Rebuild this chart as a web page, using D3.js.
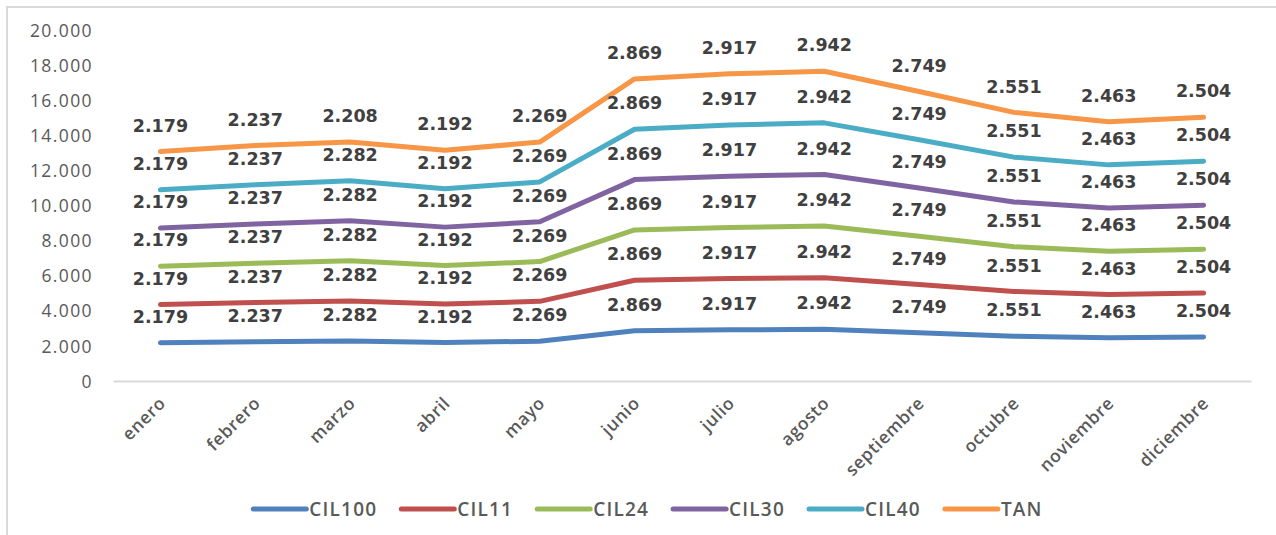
<!DOCTYPE html>
<html>
<head>
<meta charset="utf-8">
<script src="https://cdn.jsdelivr.net/npm/d3@7/dist/d3.min.js"></script>
<style>
  html, body { margin: 0; padding: 0; background: #fff; }
  svg { display: block; }
</style>
</head>
<body>
<svg id="chart" width="1276" height="535"></svg>
<script>
const months = ["enero","febrero","marzo","abril","mayo","junio","julio","agosto","septiembre","octubre","noviembre","diciembre"];
const seriesNames = ["CIL100","CIL11","CIL24","CIL30","CIL40","TAN"];
const CIL100 = [2179,2237,2282,2192,2269,2869,2917,2942,2749,2551,2463,2504];
const CIL11  = [2179,2237,2282,2192,2269,2869,2917,2942,2749,2551,2463,2504];
const CIL24  = [2179,2237,2282,2192,2269,2869,2917,2942,2749,2551,2463,2504];
const CIL30  = [2179,2237,2282,2192,2269,2869,2917,2942,2749,2551,2463,2504];
const CIL40  = [2179,2237,2282,2192,2269,2869,2917,2942,2749,2551,2463,2504];
const TAN    = [2179,2237,2208,2192,2269,2869,2917,2942,2749,2551,2463,2504];
const yTicks = [0,2000,4000,6000,8000,10000,12000,14000,16000,18000,20000];
const colors = ["#4F81BD","#C0504D","#9BBB59","#8064A2","#4BACC6","#F79646"];

const seriesValues = [CIL100, CIL11, CIL24, CIL30, CIL40, TAN];
const table = months.map((m, i) => {
  const row = { month: m };
  seriesNames.forEach((s, k) => row[s] = seriesValues[k][i]);
  return row;
});
const stacked = d3.stack().keys(seriesNames)(table);

const locale = d3.formatLocale({ decimal: ",", thousands: ".", grouping: [3], currency: ["", ""] });
const fmt = locale.format(",.0f");

const svg = d3.select("#chart");
const W = 1276, H = 535;

// outer border
svg.append("rect").attr("x", 7).attr("y", 7).attr("width", W + 10).attr("height", H + 10)
  .attr("fill", "none").attr("stroke", "#d9d9d9").attr("stroke-width", 2);

const x = d3.scaleBand().domain(months).range([113, 1251]);
const y = d3.scaleLinear().domain([0, 20000]).range([381, 30]);
const cx = m => x(m) + x.bandwidth() / 2;

// y axis labels
const yAxis = d3.axisLeft(y).tickValues(yTicks).tickFormat(d => fmt(d)).tickSize(0).tickPadding(0);
const yg = svg.append("g").attr("transform", "translate(93,0)").call(yAxis);
yg.select(".domain").remove();
yg.selectAll("text").attr("font-family", "'Open Sans', sans-serif").attr("font-size", 17.5)
  .attr("letter-spacing", "1.4px").attr("fill", "#595959").attr("dy", "0.35em");

// x baseline
const xAxis = d3.axisBottom(x).tickSize(0).tickFormat("");
const xg = svg.append("g").attr("transform", `translate(0,${y(0)})`).call(xAxis);
xg.select(".domain").attr("stroke", "#d9d9d9").attr("stroke-width", 2);
xg.selectAll("text").remove();

// x labels rotated
svg.append("g").selectAll("text").data(months).join("text")
  .attr("transform", d => `translate(${cx(d) + 2},400) rotate(-45)`)
  .attr("text-anchor", "end").attr("dy", "0.35em")
  .attr("font-family", "'Open Sans', sans-serif").attr("font-weight", 600)
  .attr("font-size", 17.5).attr("letter-spacing", "0.6px").attr("fill", "#595959")
  .text(d => d);

// lines
const line = d3.line().x(d => cx(d.data.month)).y(d => y(d[1]));
svg.append("g").selectAll("path").data(stacked).join("path")
  .attr("d", d => line(d))
  .attr("fill", "none").attr("stroke", (d, i) => colors[i])
  .attr("stroke-width", 5).attr("stroke-linejoin", "round").attr("stroke-linecap", "round");

// data labels
const lg = svg.append("g");
stacked.forEach((s, k) => {
  lg.selectAll(null).data(s).join("text")
    .attr("x", d => cx(d.data.month))
    .attr("y", d => y(d[1]) - 26)
    .attr("dy", "0.35em").attr("text-anchor", "middle")
    .attr("font-family", "'DejaVu Sans', Verdana, sans-serif").attr("font-weight", "bold")
    .attr("font-size", 17.5).attr("fill", "#404040")
    .text(d => fmt(d.data[s.key]));
});

// legend
const leg = svg.append("g").attr("transform", "translate(0,509)");
let xpos = 0;
seriesNames.forEach((n, i) => {
  const g = leg.append("g");
  g.append("line").attr("x1", 0).attr("x2", 53).attr("y1", 0).attr("y2", 0)
    .attr("stroke", colors[i]).attr("stroke-width", 5).attr("stroke-linecap", "round");
  const t = g.append("text").attr("x", 56).attr("dy", "0.35em")
    .attr("font-family", "'Open Sans', sans-serif").attr("font-weight", 600)
    .attr("font-size", 19).attr("letter-spacing", "1.2px").attr("fill", "#595959").text(n);
  const w = 56 + t.node().getComputedTextLength();
  g.attr("transform", `translate(${xpos},0)`);
  xpos += w + 24;
});
const total = xpos - 24;
leg.attr("transform", `translate(${648 - total / 2},509)`);
</script>
</body>
</html>
